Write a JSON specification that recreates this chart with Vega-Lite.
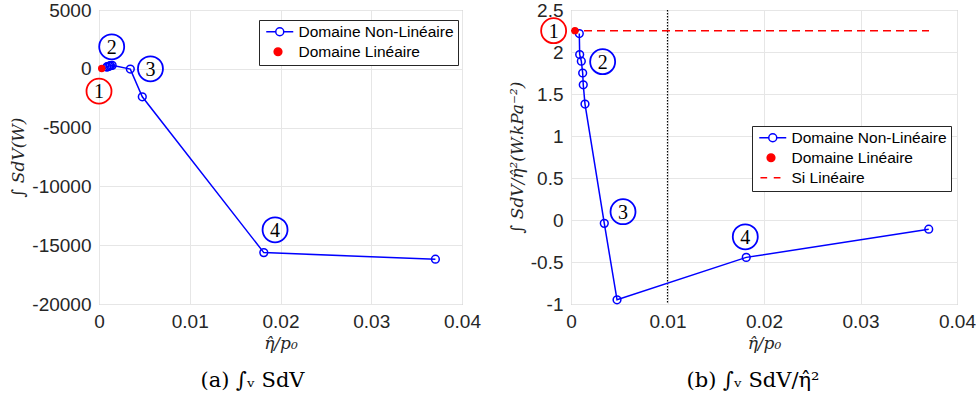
{
  "$schema": "https://vega.github.io/schema/vega-lite/v6.json",
  "padding": {"left": 9, "top": 0, "right": 5, "bottom": 5},
  "background": "white",
  "datasets": {
    "nl_left": [
      {"x": 0.00086, "y": 160, "series": "Domaine Non-Linéaire"},
      {"x": 0.0009, "y": 160, "series": "Domaine Non-Linéaire"},
      {"x": 0.00107, "y": 215, "series": "Domaine Non-Linéaire"},
      {"x": 0.00121, "y": 255, "series": "Domaine Non-Linéaire"},
      {"x": 0.00127, "y": 260, "series": "Domaine Non-Linéaire"},
      {"x": 0.00145, "y": 290, "series": "Domaine Non-Linéaire"},
      {"x": 0.00345, "y": -25, "series": "Domaine Non-Linéaire"},
      {"x": 0.00477, "y": -2380, "series": "Domaine Non-Linéaire"},
      {"x": 0.01816, "y": -15630, "series": "Domaine Non-Linéaire"},
      {"x": 0.03707, "y": -16190, "series": "Domaine Non-Linéaire"}
    ],
    "lin_left": [
      {"x": 0.0003, "y": 20, "series": "Domaine Linéaire"}
    ],
    "notes_left": [
      {"x": 0.0, "y": -1900, "label": "1", "c": "#ff0000"},
      {"x": 0.0014, "y": 1870, "label": "2", "c": "#0000ff"},
      {"x": 0.00567, "y": 0, "label": "3", "c": "#0000ff"},
      {"x": 0.0194, "y": -13690, "label": "4", "c": "#0000ff"}
    ],
    "nl_right": [
      {"x": 0.00086, "y": 2.22, "series": "Domaine Non-Linéaire"},
      {"x": 0.0009, "y": 1.97, "series": "Domaine Non-Linéaire"},
      {"x": 0.00107, "y": 1.89, "series": "Domaine Non-Linéaire"},
      {"x": 0.00121, "y": 1.75, "series": "Domaine Non-Linéaire"},
      {"x": 0.00127, "y": 1.61, "series": "Domaine Non-Linéaire"},
      {"x": 0.00145, "y": 1.38, "series": "Domaine Non-Linéaire"},
      {"x": 0.00345, "y": -0.04, "series": "Domaine Non-Linéaire"},
      {"x": 0.00477, "y": -0.95, "series": "Domaine Non-Linéaire"},
      {"x": 0.01816, "y": -0.445, "series": "Domaine Non-Linéaire"},
      {"x": 0.03707, "y": -0.11, "series": "Domaine Non-Linéaire"}
    ],
    "lin_right": [
      {"x": 0.00041, "y": 2.254, "series": "Domaine Linéaire"}
    ],
    "si_right": [
      {"x": 0.0, "y": 2.254, "series": "Si Linéaire"},
      {"x": 0.0371, "y": 2.254, "series": "Si Linéaire"}
    ],
    "vline": [
      {"x": 0.01}
    ],
    "notes_right": [
      {"x": -0.0018, "y": 2.254, "label": "1", "c": "#ff0000"},
      {"x": 0.00328, "y": 1.885, "label": "2", "c": "#0000ff"},
      {"x": 0.00539, "y": 0.099, "label": "3", "c": "#0000ff"},
      {"x": 0.01806, "y": -0.2, "label": "4", "c": "#0000ff"}
    ]
  },
  "hconcat": [
    {
      "width": 363,
      "height": 294,
      "title": {"text": "(a) ∫ᵥ SdV", "orient": "bottom", "dx": -28, "offset": 19},
      "encoding": {
        "x": {
          "field": "x", "type": "quantitative",
          "scale": {"domain": [0, 0.04], "nice": false, "zero": false},
          "axis": {"values": [0, 0.01, 0.02, 0.03, 0.04], "format": ".2~f", "title": "η̂/p₀", "titlePadding": 4}
        }
      },
      "layer": [
        {
          "data": {"name": "nl_left"},
          "mark": {"type": "line", "strokeWidth": 1.5},
          "encoding": {
            "y": {
              "field": "y", "type": "quantitative",
              "scale": {"domain": [-20000, 5000], "nice": false, "zero": false},
              "axis": {"values": [-20000, -15000, -10000, -5000, 0, 5000], "labelExpr": "'' + datum.value", "title": "∫ SdV(W)", "titlePadding": 4}
            },
            "color": {
              "field": "series", "type": "nominal",
              "scale": {"domain": ["Domaine Non-Linéaire", "Domaine Linéaire"], "range": ["#0000ff", "#ff0000"]},
              "legend": {
                "title": null, "orient": "none", "legendX": 160, "legendY": 10,
                "labelFont": "Liberation Sans", "labelFontSize": 15.5, "labelColor": "#000000", "labelLimit": 400,
                "strokeColor": "#262626", "fillColor": "#ffffff", "padding": 4, "rowPadding": 3,
                "symbolSize": 100, "symbolStrokeWidth": 1.5, "symbolOffset": 9, "labelOffset": 11,
                "encode": {
                  "symbols": {
                    "update": {
                      "shape": {"signal": "datum.value === 'Domaine Linéaire' ? 'M0.42,0 A0.77,0.77 0 1 1 -1.12,0 A0.77,0.77 0 1 1 0.42,0 Z' : 'M-2.7,0 L-0.8,0 M0.8,0 L2.7,0 M0.8,0 A0.8,0.8 0 1 1 -0.8,0 A0.8,0.8 0 1 1 0.8,0'"},
                      "fill": {"signal": "datum.value === 'Domaine Linéaire' ? '#ff0000' : 'transparent'"},
                      "stroke": {"signal": "datum.value === 'Domaine Linéaire' ? 'transparent' : '#0000ff'"},
                      "strokeWidth": {"value": 1.5},
                      "opacity": {"value": 1}
                    }
                  }
                }
              }
            }
          }
        },
        {
          "data": {"name": "nl_left"},
          "mark": {"type": "point", "filled": false, "shape": "circle", "size": 60, "strokeWidth": 1.5, "opacity": 1, "color": "#0000ff"},
          "encoding": {
            "y": {"field": "y", "type": "quantitative"}
          }
        },
        {
          "data": {"name": "lin_left"},
          "mark": {"type": "point", "filled": true, "shape": "circle", "size": 55, "opacity": 1, "color": "#ff0000"},
          "encoding": {
            "y": {"field": "y", "type": "quantitative"}
          }
        },
        {
          "data": {"name": "notes_left"},
          "mark": {"type": "point", "filled": false, "shape": "circle", "size": 625, "strokeWidth": 1.8, "opacity": 1},
          "encoding": {
            "y": {"field": "y", "type": "quantitative"},
            "stroke": {"field": "c", "type": "nominal", "scale": null, "legend": null}
          }
        },
        {
          "data": {"name": "notes_left"},
          "mark": {"type": "text", "font": "Liberation Serif", "fontSize": 20, "baseline": "middle", "align": "center", "color": "#000000", "dy": 1},
          "encoding": {
            "y": {"field": "y", "type": "quantitative"},
            "text": {"field": "label", "type": "nominal"}
          }
        }
      ]
    },
    {
      "width": 386,
      "height": 294,
      "title": {"text": "(b) ∫ᵥ SdV/η̂²", "orient": "bottom", "dx": -11, "offset": 19},
      "encoding": {
        "x": {
          "field": "x", "type": "quantitative",
          "scale": {"domain": [0, 0.04], "nice": false, "zero": false},
          "axis": {"values": [0, 0.01, 0.02, 0.03, 0.04], "format": ".2~f", "title": "η̂/p₀", "titlePadding": 4}
        }
      },
      "layer": [
        {
          "data": {"name": "vline"},
          "mark": {"type": "rule", "color": "#000000", "strokeWidth": 1.2, "strokeDash": [1.5, 1.5]}
        },
        {
          "data": {"name": "nl_right"},
          "mark": {"type": "line", "strokeWidth": 1.5},
          "encoding": {
            "y": {
              "field": "y", "type": "quantitative",
              "scale": {"domain": [-1, 2.5], "nice": false, "zero": false},
              "axis": {"values": [-1, -0.5, 0, 0.5, 1, 1.5, 2, 2.5], "labelExpr": "'' + datum.value", "title": "∫ SdV/η̂²(W.kPa⁻²)", "titlePadding": 4}
            },
            "color": {
              "field": "series", "type": "nominal",
              "scale": {"domain": ["Domaine Non-Linéaire", "Domaine Linéaire", "Si Linéaire"], "range": ["#0000ff", "#ff0000", "#ff0000"]},
              "legend": {
                "title": null, "orient": "none", "legendX": 181, "legendY": 116,
                "labelFont": "Liberation Sans", "labelFontSize": 15.5, "labelColor": "#000000", "labelLimit": 400,
                "strokeColor": "#262626", "fillColor": "#ffffff", "padding": 4, "rowPadding": 3,
                "symbolSize": 100, "symbolStrokeWidth": 1.5, "symbolOffset": 9, "labelOffset": 11,
                "encode": {
                  "symbols": {
                    "update": {
                      "shape": {"signal": "datum.value === 'Domaine Linéaire' ? 'M0.42,0 A0.77,0.77 0 1 1 -1.12,0 A0.77,0.77 0 1 1 0.42,0 Z' : (datum.value === 'Si Linéaire' ? 'M-2.46,0 L-1.12,0 M0.2,0 L1.54,0' : 'M-2.7,0 L-0.8,0 M0.8,0 L2.7,0 M0.8,0 A0.8,0.8 0 1 1 -0.8,0 A0.8,0.8 0 1 1 0.8,0')"},
                      "fill": {"signal": "datum.value === 'Domaine Linéaire' ? '#ff0000' : 'transparent'"},
                      "stroke": {"signal": "datum.value === 'Domaine Linéaire' ? 'transparent' : (datum.value === 'Si Linéaire' ? '#ff0000' : '#0000ff')"},
                      "strokeWidth": {"value": 1.5},
                      "opacity": {"value": 1}
                    }
                  }
                }
              }
            }
          }
        },
        {
          "data": {"name": "si_right"},
          "mark": {"type": "line", "strokeWidth": 1.5, "strokeDash": [8, 5], "color": "#ff0000"},
          "encoding": {
            "y": {"field": "y", "type": "quantitative"}
          }
        },
        {
          "data": {"name": "nl_right"},
          "mark": {"type": "point", "filled": false, "shape": "circle", "size": 60, "strokeWidth": 1.5, "opacity": 1, "color": "#0000ff"},
          "encoding": {
            "y": {"field": "y", "type": "quantitative"}
          }
        },
        {
          "data": {"name": "lin_right"},
          "mark": {"type": "point", "filled": true, "shape": "circle", "size": 55, "opacity": 1, "color": "#ff0000"},
          "encoding": {
            "y": {"field": "y", "type": "quantitative"}
          }
        },
        {
          "data": {"name": "notes_right"},
          "mark": {"type": "point", "filled": false, "shape": "circle", "size": 625, "strokeWidth": 1.8, "opacity": 1},
          "encoding": {
            "y": {"field": "y", "type": "quantitative"},
            "stroke": {"field": "c", "type": "nominal", "scale": null, "legend": null}
          }
        },
        {
          "data": {"name": "notes_right"},
          "mark": {"type": "text", "font": "Liberation Serif", "fontSize": 20, "baseline": "middle", "align": "center", "color": "#000000", "dy": 1},
          "encoding": {
            "y": {"field": "y", "type": "quantitative"},
            "text": {"field": "label", "type": "nominal"}
          }
        }
      ]
    }
  ],
  "spacing": 109,
  "bounds": "flush",
  "resolve": {"scale": {"color": "independent"}, "legend": {"color": "independent"}},
  "config": {
    "view": {"stroke": "#a6a6a6", "strokeWidth": 1},
    "axis": {
      "domain": false, "ticks": false, "grid": true, "gridColor": "#e6e6e6", "gridWidth": 1,
      "labelFont": "Liberation Sans", "labelFontSize": 19, "labelColor": "#262626", "labelPadding": 8,
      "labelFlush": false, "labelOverlap": false, "labelBound": false,
      "titleFont": "DejaVu Serif", "titleFontStyle": "italic", "titleFontWeight": "normal", "titleFontSize": 17, "titleColor": "#262626"
    },
    "title": {"font": "DejaVu Serif", "fontSize": 21, "fontWeight": "normal", "color": "#000000", "anchor": "middle"}
  }
}
